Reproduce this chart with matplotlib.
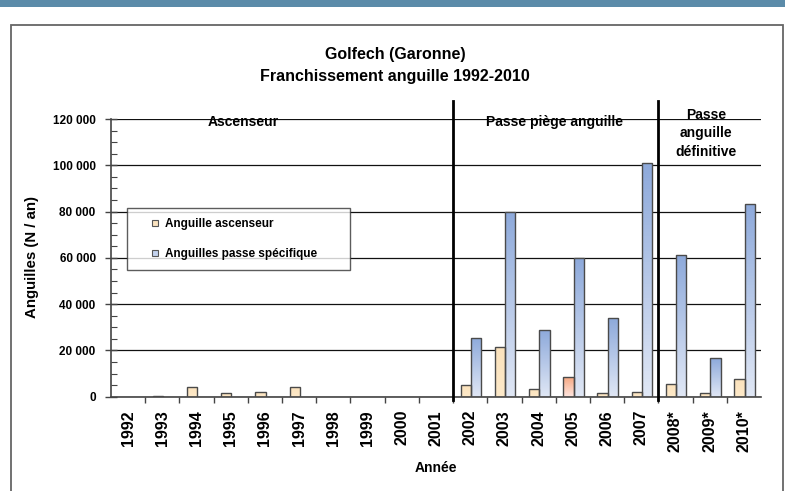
import numpy as np
import matplotlib.pyplot as plt
from matplotlib.colors import LinearSegmentedColormap
from matplotlib.lines import Line2D
from matplotlib.patches import Rectangle
from matplotlib.ticker import FuncFormatter, MultipleLocator

plt.rcParams["font.family"] = ["Liberation Sans", "DejaVu Sans"]
plt.rcParams["font.weight"] = "bold"

years = ["1992", "1993", "1994", "1995", "1996", "1997", "1998", "1999", "2000",
         "2001", "2002", "2003", "2004", "2005", "2006", "2007", "2008*", "2009*", "2010*"]
ascenseur = [np.nan, 300, 4100, 1500, 2000, 4100, np.nan, np.nan, np.nan, np.nan,
             4900, 21300, 3450, 8350, 1450, 2000, 5450, 1450, 7500]
passe = [np.nan] * 10 + [25500, 80000, 28900, 60000, 33800, 101100, 61300, 16550, 83400]
highlight_year = "2005"

periods = ["Ascenseur", "Passe piège anguille", "Passe\nanguille\ndéfinitive"]
legend_labels = ["Anguille ascenseur", "Anguilles passe spécifique"]

cm_yellow = LinearSegmentedColormap.from_list("y", ["#fde9c9", "#fbe2bc"])
cm_red = LinearSegmentedColormap.from_list("r", ["#ffe6e0", "#f6a882"])
cm_blue = LinearSegmentedColormap.from_list("b", ["#e0e7f5", "#8eaadb"])

fig = plt.figure(figsize=(7.85, 4.91), dpi=100)
ax = fig.add_axes([111 / 785, 1 - 396.7 / 491, 650 / 785, 277.7 / 491])

# page decorations
fig.patches.append(Rectangle((0, 1 - 7 / 491), 1, 7 / 491, transform=fig.transFigure,
                             facecolor="#5b8ba9", edgecolor="none"))
fig.patches.append(Rectangle((11 / 785, -0.05), 772 / 785, 1 - 25 / 491 + 0.05,
                             transform=fig.transFigure, facecolor="none",
                             edgecolor="#666666", lw=1.3))

x = np.arange(len(years))
w = 0.3


def gradient_bars(xs, vals, off, cmaps):
    for xi, v, cm in zip(xs, vals, cmaps):
        if np.isnan(v):
            continue
        b = ax.bar(xi + off, v, w, facecolor="none", edgecolor="#4a4a4a", lw=1.0, zorder=3)[0]
        grad = np.linspace(0, 1, 64).reshape(-1, 1)
        im = ax.imshow(grad, cmap=cm, origin="lower", aspect="auto", zorder=2.5,
                       extent=[xi + off - w / 2, xi + off + w / 2, 0, v])
        im.set_clip_path(b)


cm_asc = [cm_red if y == highlight_year else cm_yellow for y in years]
gradient_bars(x, ascenseur, -0.13, cm_asc)
gradient_bars(x, passe, 0.17, [cm_blue] * len(years))

ax.set_xlim(-0.5, len(years) - 0.5)
ax.set_ylim(0, 120000)

ax.yaxis.set_major_locator(MultipleLocator(20000))
ax.yaxis.set_minor_locator(MultipleLocator(5000))
ax.yaxis.set_major_formatter(FuncFormatter(lambda v, p: f"{int(v):,}".replace(",", " ")))
ax.tick_params(axis="y", which="major", direction="inout", length=8, width=1,
               labelsize=8.5, pad=7, color="#444444")
ax.tick_params(axis="y", which="minor", direction="in", length=4, width=0.8, color="#444444")
ax.grid(axis="y", which="major", color="#111111", lw=0.9, zorder=1)
ax.set_axisbelow(True)

ax.set_xticks(x[:-1] + 0.5)
ax.set_xticks(x, minor=True)
ax.set_xticklabels([])
ax.set_xticklabels(years, minor=True, rotation=90, fontsize=11.5)
ax.tick_params(axis="x", which="major", direction="out", length=4, width=1, color="#444444")
ax.tick_params(axis="x", which="minor", length=0, pad=9.5)
for lab in ax.get_yticklabels():
    lab.set_fontweight("bold")

for s in ["top", "right"]:
    ax.spines[s].set_visible(False)
for s in ["left", "bottom"]:
    ax.spines[s].set_color("#444444")
    ax.spines[s].set_linewidth(1.2)

# period separators
for xs in [9.5, 15.5]:
    ax.plot([xs, xs], [-1400, 127600], color="black", lw=2, clip_on=False, zorder=4)

ax.text(3.36, 118500, periods[0], ha="center", va="center", fontsize=10)
ax.text(12.45, 118500, periods[1], ha="center", va="center", fontsize=10)
ax.text(16.89, 113800, periods[2], ha="center", va="center", fontsize=10, linespacing=1.4)

handles = [Line2D([], [], ls="none", marker="s", markersize=4.5, markerfacecolor=c,
                  markeredgecolor="#555555", markeredgewidth=0.8)
           for c in ["#fbe3bf", "#c3d2ee"]]
leg = ax.legend(handles, legend_labels, loc="upper left", mode="expand",
                bbox_to_anchor=(16 / 650, (396.7 - 211) / 277.7, 223 / 650, 0.01),
                fontsize=8.5, frameon=True, fancybox=False, borderpad=0.85,
                labelspacing=1.5, handlelength=3.1, handletextpad=-0.75, borderaxespad=0)
leg.get_frame().set_edgecolor("#333333")
leg.get_frame().set_linewidth(1.0)
leg.set_zorder(5)

fig.text(395 / 785, 1 - 55 / 491, "Golfech (Garonne)", ha="center", va="center", fontsize=11.5)
fig.text(395 / 785, 1 - 77 / 491, "Franchissement anguille 1992-2010", ha="center",
         va="center", fontsize=11.5)
fig.text(32 / 785, 1 - 257.5 / 491, "Anguilles (N / an)", rotation=90, ha="center",
         va="center", fontsize=10.8)
fig.text(436 / 785, 1 - 468 / 491, "Année", ha="center", va="center", fontsize=10)

fig.savefig("out.png", dpi=100)
